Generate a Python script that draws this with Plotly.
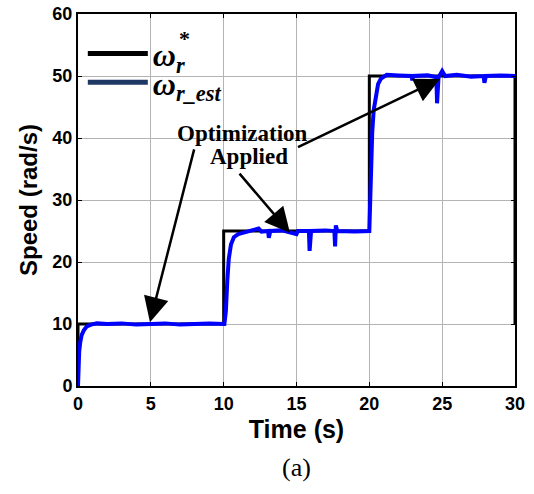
import plotly.graph_objects as go

# Reference speed (black step)
t_ref = [0, 0, 10, 10, 20, 20, 30, 30]
w_ref = [0, 10, 10, 25, 25, 50, 50, 10]

# Estimated speed (blue)
t_est = [0, 0.03, 0.08, 0.15, 0.25, 0.4, 0.6, 0.9, 1.3, 2.0, 3.0, 4.0, 5.0, 6.0, 7.0, 8.0, 9.0,
         10.05, 10.15, 10.25, 10.35, 10.5, 10.7, 11.0, 11.5, 12.0, 12.4, 12.6, 13.05, 13.1, 13.2,
         14.0, 15.0, 15.1, 15.85, 15.9, 16.0, 17.0, 17.6, 17.65, 17.7, 17.8, 19.0, 20.0,
         20.05, 20.1, 20.2, 20.3, 20.45, 20.6, 20.8, 21.2, 22.0, 22.9, 22.95, 23.0, 24.0,
         24.6, 24.65, 24.75, 25.0, 25.2, 26.0, 27.0, 27.85, 27.9, 28.0, 29.0, 30.0]
w_est = [0, 3, 5.5, 7, 8.2, 9.0, 9.6, 9.9, 10.1, 10.0, 10.1, 9.9, 10.0, 10.1, 9.9, 10.0, 10.1,
         10.0, 12, 17, 20.5, 22.8, 24.0, 24.5, 24.8, 25.0, 25.4, 24.9, 25.0, 23.9, 25.0,
         25.1, 24.5, 25.0, 25.0, 21.8, 25.0, 25.1, 25.0, 22.5, 25.9, 25.0, 24.9, 25.0,
         29, 35, 41, 44.5, 47, 48.7, 49.6, 50.2, 50.1, 50.0, 49.3, 50.0, 50.1,
         49.8, 45.6, 49.8, 50.8, 50.0, 50.2, 49.9, 50.0, 48.9, 50.0, 50.1, 50.0]

x_ticks = [0, 5, 10, 15, 20, 25, 30]
y_ticks = [0, 10, 20, 30, 40, 50, 60]

fig = go.Figure()
fig.add_trace(go.Scatter(x=t_ref, y=w_ref, mode="lines", line=dict(color="black", width=3),
                         showlegend=False))
fig.add_trace(go.Scatter(x=t_est, y=w_est, mode="lines", line=dict(color="#0000ff", width=4),
                         showlegend=False))
# legend entries
fig.add_trace(go.Scatter(x=[None], y=[None], mode="lines", line=dict(color="black", width=5),
                         name="ω<sub>r</sub>", legend="legend"))
fig.add_trace(go.Scatter(x=[None], y=[None], mode="lines", line=dict(color="#1f3864", width=5),
                         name="ω<sub>r_est</sub>", legend="legend2"))

tickfont = dict(family="Liberation Sans", size=18, color="black", weight="bold")
axis_common = dict(showgrid=True, gridcolor="#b4b4b4", gridwidth=1, showline=True,
                   linecolor="black", linewidth=2, mirror="ticks", ticks="inside",
                   ticklen=4, tickcolor="black", tickfont=tickfont, zeroline=False,
                   automargin=False)

fig.update_xaxes(range=[0, 30], tickvals=x_ticks, **axis_common,
                 title=dict(text="Time (s)", standoff=8,
                            font=dict(family="Liberation Sans", size=25, color="black", weight="bold")))
fig.update_yaxes(range=[0, 60], tickvals=y_ticks, **axis_common,
                 title=dict(text="Speed (rad/s)", standoff=8,
                            font=dict(family="Liberation Sans", size=24, color="black", weight="bold")))

annfont = dict(family="Liberation Serif", size=23, color="black", weight="bold")
fig.add_annotation(x=0.376, y=0.68, xref="paper", yref="paper", text="Optimization",
                   showarrow=False, font=annfont, xanchor="center", yanchor="middle")
fig.add_annotation(x=0.392, y=0.617, xref="paper", yref="paper", text="Applied",
                   showarrow=False, font=annfont, xanchor="center", yanchor="middle")
arrow_tips = [(4.94, 10.3), (14.55, 24.7), (24.85, 49.5)]
arrow_tails = [(8.0, 38.4), (11.0, 34.5), (15.0, 38.4)]
for (xt, yt), (xa, ya) in zip(arrow_tips, arrow_tails):
    fig.add_annotation(x=xt, y=yt, ax=xa, ay=ya, xref="x", yref="y", axref="x", ayref="y",
                       text="", showarrow=True, arrowhead=2, arrowsize=2, arrowwidth=2.5,
                       arrowcolor="black")

fig.add_annotation(x=0.243, y=0.935, xref="paper", yref="paper", text="*", showarrow=False,
                   xanchor="center", yanchor="middle",
                   font=dict(family="Liberation Serif", size=22, color="black", weight="bold"))
fig.add_annotation(x=0.501, y=-0.22, xref="paper", yref="paper", text="(a)", showarrow=False,
                   xanchor="center", yanchor="middle",
                   font=dict(family="Liberation Serif", size=26, color="black"))

legfont = dict(family="Liberation Serif", size=32, color="black", weight="bold", style="italic")
fig.update_layout(
    width=534, height=494,
    margin=dict(l=78, r=19, t=14, b=108),
    paper_bgcolor="white", plot_bgcolor="white",
    legend=dict(x=0.011, y=0.967, xanchor="left", yanchor="top", bgcolor="rgba(0,0,0,0)",
                itemwidth=60, font=legfont),
    legend2=dict(x=0.011, y=0.89, xanchor="left", yanchor="top", bgcolor="rgba(0,0,0,0)",
                 itemwidth=60, font=legfont),
)

fig.write_html("out.html", config={"displayModeBar": False},
               post_script="document.body.style.margin='0px';")
